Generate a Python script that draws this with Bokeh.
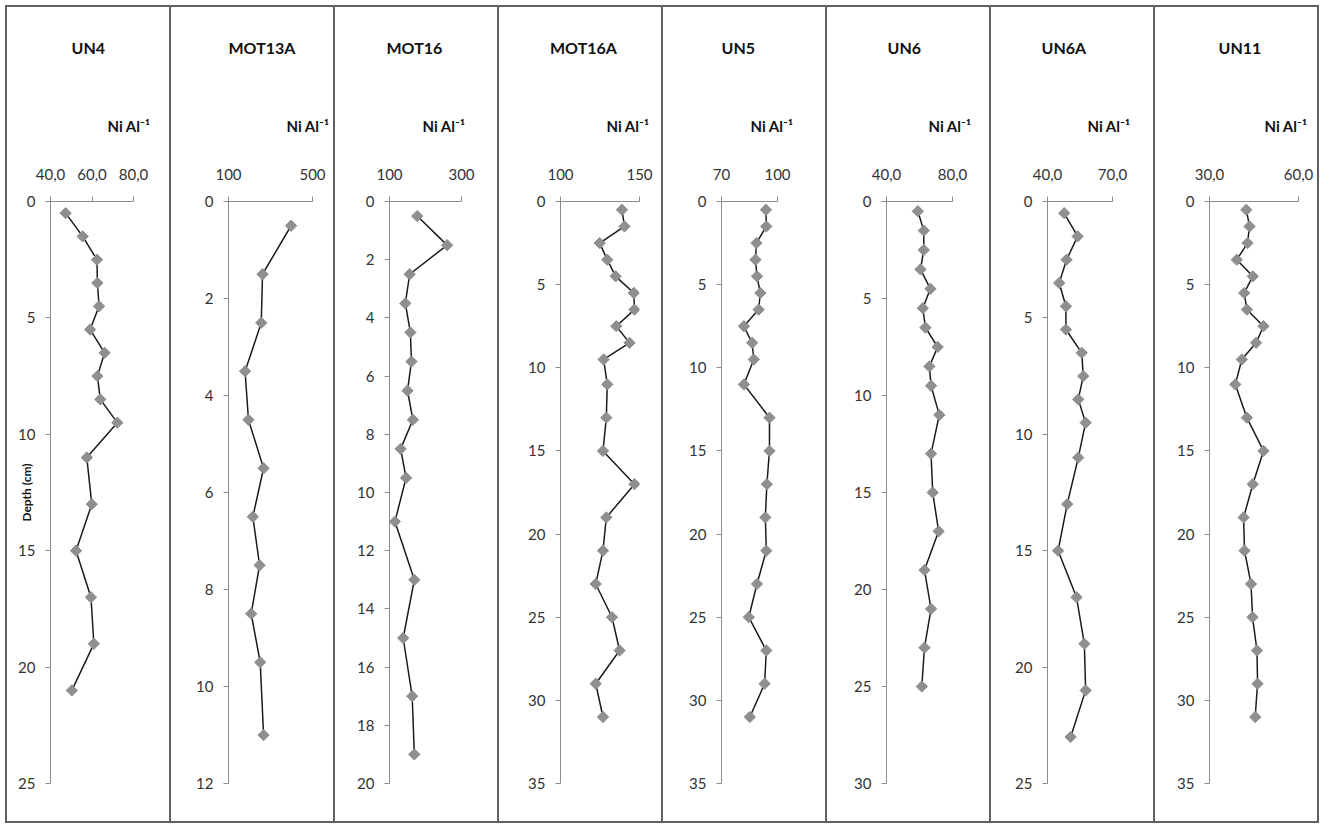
import math
from bokeh.plotting import figure
from bokeh.models import Range1d, FixedTicker, Title, Div, Spacer
from bokeh.layouts import row, column
from bokeh.embed import file_html
from bokeh.resources import INLINE

# ---- data: Ni/Al ratio profiles against depth (cm) for each core ----
cores = ["UN4", "MOT13A", "MOT16", "MOT16A", "UN5", "UN6", "UN6A", "UN11"]

un4_depth = [0.5, 1.5, 2.5, 3.5, 4.5, 5.5, 6.5, 7.5, 8.5, 9.5, 11, 13, 15, 17, 19, 21]
un4_ni = [47.3, 55.5, 62.4, 62.6, 63.4, 59.1, 66.1, 62.6, 64.0, 72.2, 57.5, 59.9, 52.3, 59.5, 60.9, 50.3]

mot13a_depth = [0.5, 1.5, 2.5, 3.5, 4.5, 5.5, 6.5, 7.5, 8.5, 9.5, 11]
mot13a_ni = [398, 262, 256, 179, 195, 267, 216, 248, 208, 251, 267]

mot16_depth = [0.5, 1.5, 2.5, 3.5, 4.5, 5.5, 6.5, 7.5, 8.5, 9.5, 11, 13, 15, 17, 19]
mot16_ni = [177, 260, 156, 144, 158, 161, 150, 165, 131, 146, 115, 169, 138, 163, 169]

mot16a_depth = [0.5, 1.5, 2.5, 3.5, 4.5, 5.5, 6.5, 7.5, 8.5, 9.5,
                11, 13, 15, 17, 19, 21, 23, 25, 27, 29, 31]
mot16a_ni = [138.9, 140.5, 124.8, 129.6, 134.9, 146.4, 146.8, 135.3, 143.7, 127.3,
             129.6, 129.0, 126.9, 146.8, 129.0, 126.9, 122.3, 132.6, 137.4, 122.3, 126.9]

un5_depth = [0.5, 1.5, 2.5, 3.5, 4.5, 5.5, 6.5, 7.5, 8.5, 9.5,
             11, 13, 15, 17, 19, 21, 23, 25, 27, 29, 31]
un5_ni = [93.8, 94.0, 88.7, 88.2, 89.0, 90.8, 89.9, 82.0, 86.4, 87.3,
          82.0, 95.7, 95.7, 94.3, 93.5, 94.0, 89.0, 84.6, 94.0, 93.1, 85.2]

un6_depth = [0.5, 1.5, 2.5, 3.5, 4.5, 5.5, 6.5, 7.5, 8.5, 9.5,
             11, 13, 15, 17, 19, 21, 23, 25]
un6_ni = [59.0, 62.6, 62.6, 60.6, 66.6, 62.0, 63.6, 71.0, 66.0, 67.0,
          72.0, 67.0, 68.0, 71.6, 63.0, 67.0, 63.0, 61.4]

un6a_depth = [0.5, 1.5, 2.5, 3.5, 4.5, 5.5, 6.5, 7.5, 8.5, 9.5,
              11, 13, 15, 17, 19, 21, 23]
un6a_ni = [47.7, 53.9, 48.8, 45.4, 48.5, 48.5, 55.8, 56.5, 54.2, 57.6,
           54.2, 49.1, 44.9, 53.4, 57.0, 57.6, 50.7]

un11_depth = [0.5, 1.5, 2.5, 3.5, 4.5, 5.5, 6.5, 7.5, 8.5, 9.5,
              11, 13, 15, 17, 19, 21, 23, 25, 27, 29, 31]
un11_ni = [42.4, 43.5, 42.8, 39.2, 44.6, 41.7, 42.6, 48.2, 45.7, 40.9,
           38.7, 42.6, 48.2, 44.6, 41.5, 41.8, 44.0, 44.5, 46.0, 46.2, 45.4]

# x-axis (Ni Al-1) ticks and their labels, per core
x_ticks = [[40, 60, 80], [100, 500], [100, 300], [100, 150],
           [70, 100], [40, 80], [40, 70], [30, 60]]
x_tick_labels = [["40,0", "60,0", "80,0"], ["100", "500"], ["100", "300"], ["100", "150"],
                 ["70", "100"], ["40,0", "80,0"], ["40,0", "70,0"], ["30,0", "60,0"]]
# depth axis: maximum and tick step, per core
depth_max = [25, 12, 20, 35, 35, 30, 25, 35]
depth_step = [5, 2, 2, 5, 5, 5, 5, 5]

depths = [un4_depth, mot13a_depth, mot16_depth, mot16a_depth,
          un5_depth, un6_depth, un6a_depth, un11_depth]
ratios = [un4_ni, mot13a_ni, mot16_ni, mot16a_ni,
          un5_ni, un6_ni, un6a_ni, un11_ni]

# ---- layout / style ----
FONT = "Lato"
PANEL_W = 162
PANEL_H = 814
SEP = 2
SEP_COLOR = "#5f5f5f"
AXIS_COLOR = "#8c8c8c"
TEXT_COLOR = "#333333"
HEAD_COLOR = "#111111"

# left offset of the depth axis inside each panel, and plot-area width (px)
frame_left = [43, 57, 54, 61, 58, 59, 56, 54]
frame_w = [83, 84, 72, 79, 56, 66, 65, 89]
# core name: left edge relative to plot left; unit label: overhang past plot right
title_shift = [21, 0, -3, -10.5, 0, 1, -6, 9]
unit_shift = [17, 17, 4, 10, 16, 19, 18, 9]

FRAME_TOP = 194
FRAME_BOTTOM = 38


def make_panel(i):
    xmin, xmax = x_ticks[i][0], x_ticks[i][-1]
    p = figure(width=PANEL_W, height=PANEL_H,
               x_range=Range1d(xmin, xmax), y_range=Range1d(depth_max[i], 0),
               x_axis_location="above", y_axis_location="left",
               toolbar_location=None, output_backend="svg",
               min_border_left=frame_left[i],
               min_border_right=PANEL_W - frame_left[i] - frame_w[i],
               min_border_top=FRAME_TOP, min_border_bottom=FRAME_BOTTOM,
               background_fill_color="white", border_fill_color="white")
    p.outline_line_color = None
    p.grid.visible = False

    xa = p.xaxis[0]
    xa.ticker = FixedTicker(ticks=x_ticks[i], minor_ticks=[])
    xa.major_label_overrides = {t: s for t, s in zip(x_ticks[i], x_tick_labels[i])}
    xa.axis_line_color = AXIS_COLOR
    xa.major_tick_line_color = AXIS_COLOR
    xa.major_tick_out = 5
    xa.major_tick_in = 0
    xa.major_label_standoff = 17
    xa.major_label_text_font = FONT
    xa.major_label_text_font_size = "15px"
    xa.major_label_text_color = TEXT_COLOR

    ya = p.yaxis[0]
    ya.ticker = FixedTicker(ticks=list(range(0, depth_max[i] + 1, depth_step[i])),
                            minor_ticks=[])
    ya.axis_line_color = AXIS_COLOR
    ya.major_tick_line_color = AXIS_COLOR
    ya.major_tick_out = 5
    ya.major_tick_in = 0
    ya.major_label_standoff = 10
    ya.major_label_text_font = FONT
    ya.major_label_text_font_size = "15px"
    ya.major_label_text_color = TEXT_COLOR
    if i == 0:
        ya.axis_label = "Depth (cm)"
        ya.axis_label_standoff = -19
        ya.axis_label_text_font = FONT
        ya.axis_label_text_font_style = "bold"
        ya.axis_label_text_font_size = "12px"
        ya.axis_label_text_color = HEAD_COLOR

    p.line(ratios[i], depths[i], line_color="#1a1a1a", line_width=1.5)
    p.scatter(ratios[i], depths[i], marker="square", angle=math.pi / 4, size=8,
              fill_color="#8f8f8f", line_color="#8f8f8f")

    # unit label above the tick labels, core name at the top of the panel
    p.add_layout(Title(text="Ni Al\u207b\u00b9", align="right", offset=-unit_shift[i],
                       standoff=61, text_font=FONT, text_font_style="bold",
                       text_font_size="15px", text_color=HEAD_COLOR), "above")
    p.title.text = cores[i]
    p.title.align = "left"
    p.title.offset = title_shift[i]
    p.title.standoff = 55
    p.title.text_font = FONT
    p.title.text_font_style = "bold"
    p.title.text_font_size = "16px"
    p.title.text_color = HEAD_COLOR
    return p


def vline():
    return Div(text="", width=SEP, height=PANEL_H, margin=0,
               styles={"background-color": SEP_COLOR})


items = [vline()]
for i in range(len(cores)):
    items.append(make_panel(i))
    items.append(vline())
strip = row(items, spacing=0, margin=0)

total_w = SEP + len(cores) * (PANEL_W + SEP)


def hline():
    return Div(text="", width=total_w, height=SEP, margin=0,
               styles={"background-color": SEP_COLOR})


boxed = column([hline(), strip, hline()], spacing=0, margin=0)
page = column([Spacer(height=5, margin=0),
               row([Spacer(width=5, margin=0), boxed], spacing=0, margin=0)],
              spacing=0, margin=0)

open("out.html", "w").write(file_html(page, INLINE))
